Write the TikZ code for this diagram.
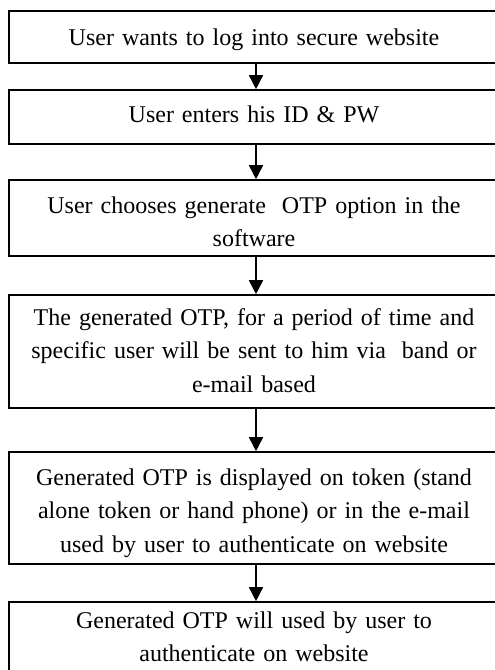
\documentclass[tikz,border=0pt]{standalone}
\usepackage{fontspec}
\setmainfont{Liberation Serif}
\usetikzlibrary{arrows.meta}

\tikzset{
  stepbox/.style={draw=black, line width=1.6pt, rectangle, inner sep=0pt,
    minimum width=490pt},
  steptext/.style={anchor=base, inner sep=0pt, text width=480pt, align=center,
    font=\fontsize{24}{33.5}\selectfont},
  flow/.style={line width=1.6pt, -{Triangle[length=14pt,width=14pt]}}
}

\begin{document}
\begin{tikzpicture}[x=1pt, y=-1pt]
  \useasboundingbox (0,0) rectangle (495,670);
  \clip (0,0) rectangle (495,670);

  % frames of the six steps (right edge and last bottom run off the page)
  \node[stepbox, minimum height=52pt]  (b1) at (254,37)    {};
  \node[stepbox, minimum height=54pt]  (b2) at (254,117)   {};
  \node[stepbox, minimum height=76pt]  (b3) at (254,218)   {};
  \node[stepbox, minimum height=113pt] (b4) at (254,351.5) {};
  \node[stepbox, minimum height=112pt] (b5) at (254,508)   {};
  \node[stepbox, minimum height=100pt] (b6) at (254,652)   {};

  % step texts, placed by the baseline of their first line
  \node[steptext] (t1) at (254,45)  {User wants to log into secure website};
  \node[steptext] (t2) at (254,122) {User enters his ID \& PW};
  \node[steptext] (t3) at (254,213) {User chooses generate\ \ OTP option in the\\software};
  \node[steptext] (t4) at (254,325) {The generated OTP, for a period of time and\\specific user will be sent to him via\ \ band or\\e-mail based};
  \node[steptext] (t5) at (254,485) {Generated OTP is displayed on token (stand\\alone token or hand phone) or in the e-mail\\used by user to authenticate on website};
  \node[steptext] (t6) at (254,628) {Generated OTP will used by user to\\authenticate on website};

  % connectors between consecutive steps
  \foreach \a/\b in {b1/b2, b2/b3, b3/b4, b4/b5, b5/b6}
    \draw[flow] ([xshift=2pt]\a.south) -- ([xshift=2pt]\b.north);
\end{tikzpicture}
\end{document}
